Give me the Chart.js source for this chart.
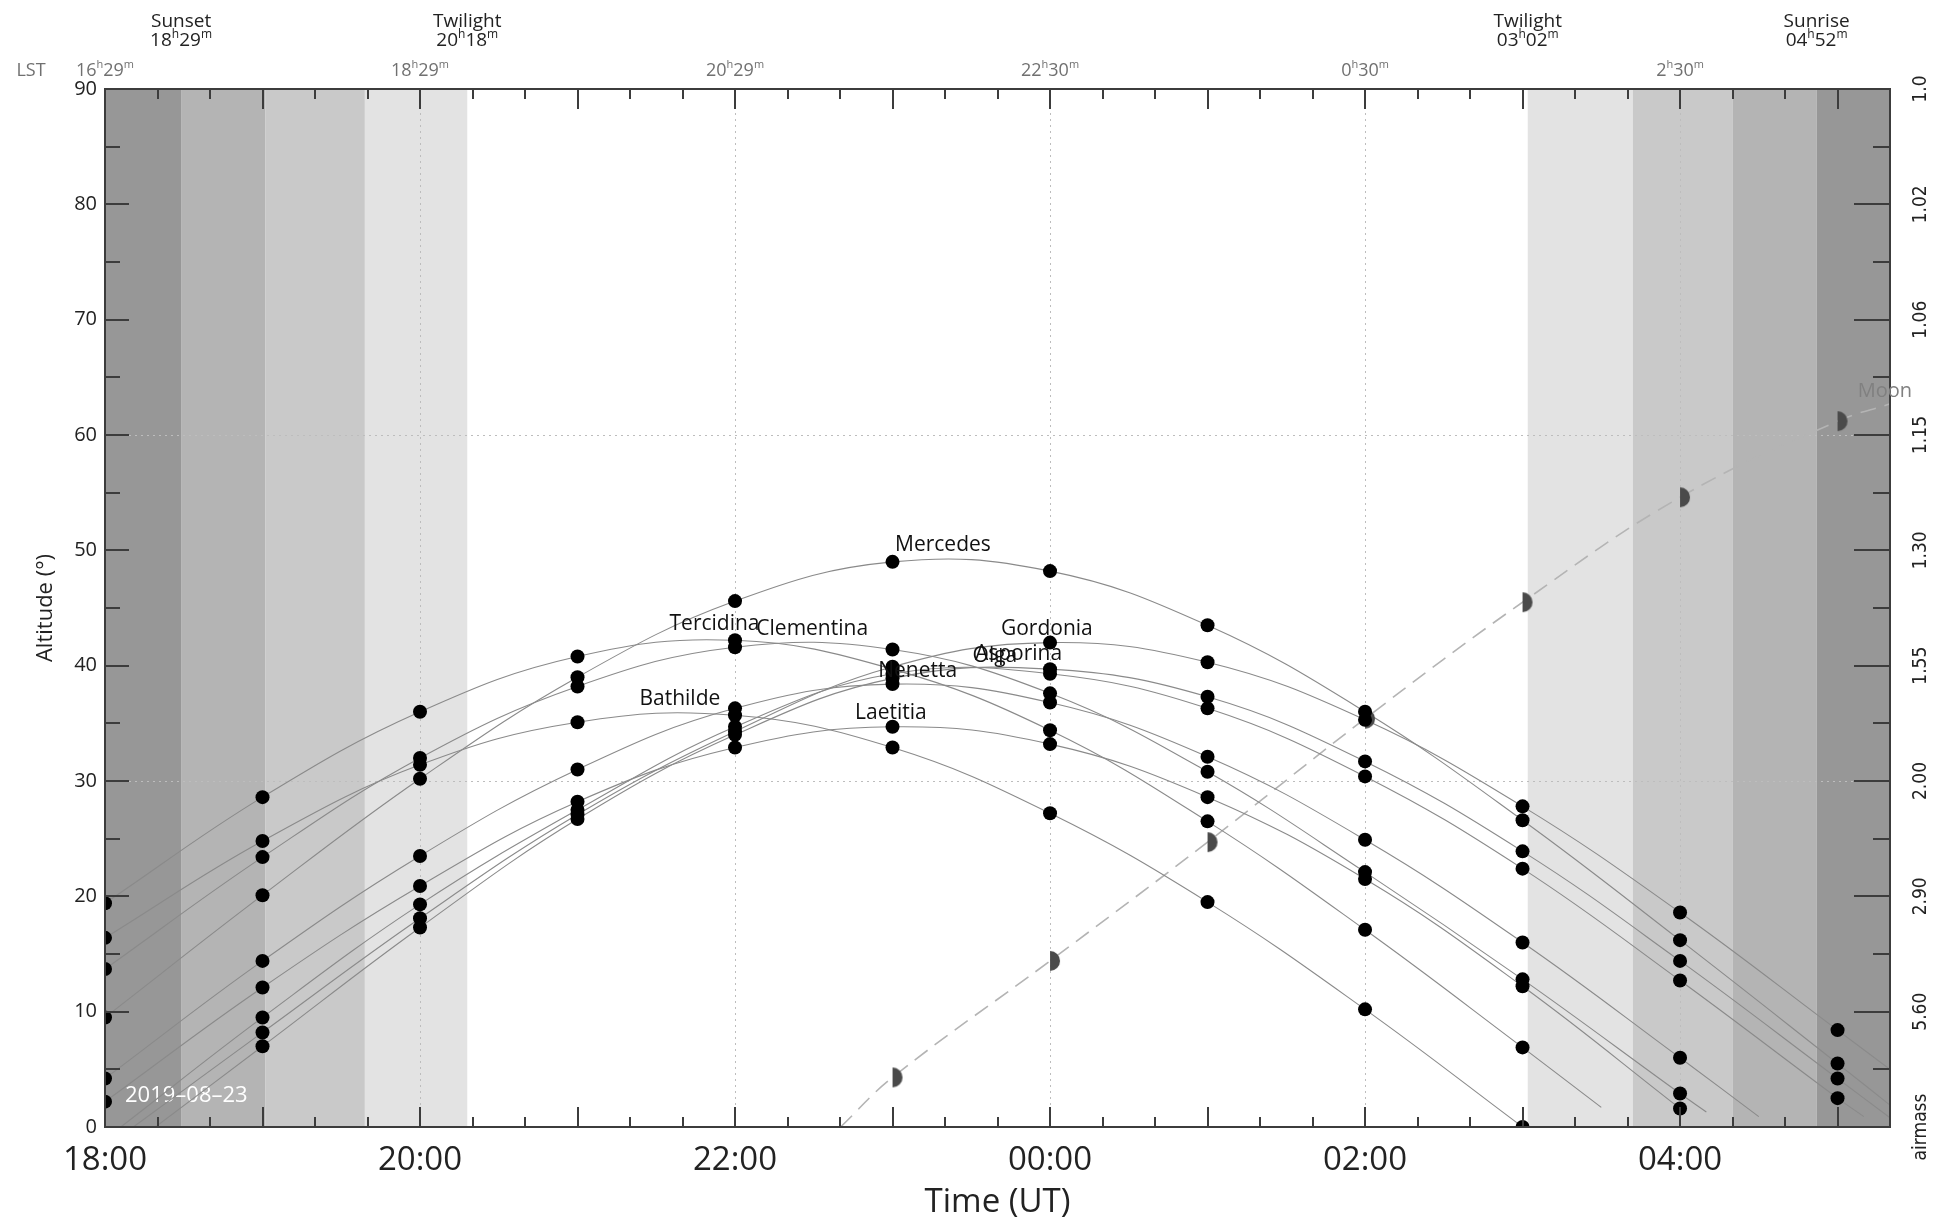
<!DOCTYPE html>
<html>
<head>
<meta charset="utf-8">
<script src="https://cdn.jsdelivr.net/npm/chart.js@4/dist/chart.umd.min.js"></script>
<style>
html,body{margin:0;padding:0;background:#fff;}
#wrap{width:1941px;height:1222px;position:relative;}
</style>
</head>
<body>
<div id="wrap"><canvas id="c" width="1941" height="1222"></canvas></div>
<script>
// ---------------- data ----------------
const ut = [18, 19, 20, 21, 22, 23, 24, 25, 26, 27, 28, 29];   // hours UT (24 = 00:00 next day)

const mercedes   = [9.5, 20.1, 30.2, 39.0, 45.6, 49.0, 48.2, 43.5, 36.0, 26.6, 16.2, 5.5];
const tercidina  = [19.4, 28.6, 36.0, 40.8, 42.2, 39.7, 34.4, 26.5, 17.1, 6.9, null, null];
const clementina = [13.7, 23.4, 32.0, 38.2, 41.6, 41.4, 37.6, 30.8, 22.1, 12.8, 2.9, null];
const gordonia   = [null, 8.2, 18.1, 27.1, 34.3, 39.9, 42.0, 40.3, 35.3, 27.8, 18.6, 8.4];
const asporina   = [null, 7.0, 17.3, 26.7, 34.0, 38.9, 39.7, 37.3, 31.7, 23.9, 14.4, 4.2];
const olga       = [null, 9.5, 19.3, 27.5, 34.7, 39.3, 39.3, 36.3, 30.4, 22.4, 12.7, 2.5];
const nenetta    = [4.2, 14.4, 23.5, 31.0, 36.3, 38.4, 36.8, 32.1, 24.9, 16.0, 6.0, null];
const bathilde   = [16.4, 24.8, 31.4, 35.1, 35.7, 32.9, 27.2, 19.5, 10.2, 0.0, null, null];
const laetitia   = [2.2, 12.1, 20.9, 28.2, 32.9, 34.7, 33.2, 28.6, 21.5, 12.2, 1.6, null];
const moon       = [null, null, null, null, null, 4.3, 14.4, 24.7, 35.4, 45.5, 54.6, 61.2];

// where each track begins / ends between the hourly marks  [hour, altitude]
const trackStart = { Gordonia: [18.18, 0], Asporina: [18.32, 0], Olga: [18.1, 0], Moon: [22.67, 0] };
const trackEnd   = { Mercedes: [29.333, 1.9], Tercidina: [27.5, 1.7], Clementina: [28.167, 1.3],
                     Gordonia: [29.333, 5.0], Asporina: [29.333, 0.8], Olga: [29.167, 0.9],
                     Nenetta: [28.5, 0.9], Moon: [29.333, 62.7] };

const targetNames = ['Mercedes', 'Tercidina', 'Clementina', 'Gordonia', 'Asporina', 'Olga', 'Nenetta', 'Bathilde', 'Laetitia'];
const targetValues = [mercedes, tercidina, clementina, gordonia, asporina, olga, nenetta, bathilde, laetitia];
// name label anchors (hour, altitude) = culmination of each track
const labelHour = [23.32, 21.87, 22.49, 23.98, 23.80, 23.65, 23.16, 21.65, 22.99];
const labelAlt  = [50.5, 43.6, 43.2, 43.2, 41.0, 40.8, 39.5, 37.1, 35.9];
const moonLabel = ['Moon', 29.3, 63.8];

// twilight bands [from, to] in hours UT, with darkness level (3 = daylight)
const bandFrom  = [18, 18.483, 19.017, 19.65, 27.033, 27.7, 28.333, 28.867];
const bandTo    = [18.483, 19.017, 19.65, 20.3, 27.7, 28.333, 28.867, 29.333];
const bandLevel = [3, 2, 1, 0, 0, 1, 2, 3];

// header events
const eventHour  = [18.483, 20.3, 27.033, 28.867];
const eventName  = ['Sunset', 'Twilight', 'Twilight', 'Sunrise'];
const eventClock = [['18', '29'], ['20', '18'], ['03', '02'], ['04', '52']];

// LST tick labels (top axis)
const lstHour  = [18, 20, 22, 24, 26, 28];
const lstClock = [['16', '29'], ['18', '29'], ['20', '29'], ['22', '30'], ['0', '30'], ['2', '30']];

// airmass labels on the right axis at altitude 0..90
const airmassAlt   = [0, 10, 20, 30, 40, 50, 60, 70, 80, 90];
const airmassLabel = ['airmass', '5.60', '2.90', '2.00', '1.55', '1.30', '1.15', '1.06', '1.02', '1.0'];

const dateLabel = '2019\u201308\u201323';

// ---------------- styles ----------------
const FONT = '"Open Sans", "DejaVu Sans", sans-serif';
const NARROW = '"Liberation Sans Narrow", "DejaVu Sans Condensed", sans-serif';
const shade = ['#e3e3e3', '#c9c9c9', '#b4b4b4', '#979797'];

function track(name, vals) {
  const pts = [];
  if (trackStart[name]) pts.push({ x: trackStart[name][0], y: trackStart[name][1] });
  vals.forEach((v, i) => { if (v !== null) pts.push({ x: ut[i], y: v }); });
  if (trackEnd[name]) pts.push({ x: trackEnd[name][0], y: trackEnd[name][1] });
  return pts;
}
function marks(vals) {
  const pts = [];
  vals.forEach((v, i) => { if (v !== null) pts.push({ x: ut[i], y: v }); });
  return pts;
}

function moonGlyph() {
  const c = document.createElement('canvas');
  c.width = 24; c.height = 24;
  const g = c.getContext('2d');
  g.fillStyle = '#4a4a4a';
  g.beginPath();
  g.moveTo(12, 2);
  g.arc(12, 12, 10, -Math.PI / 2, Math.PI / 2);
  g.closePath();
  g.fill();
  return c;
}

const datasets = [];
// markers first (drawn on top)
targetNames.forEach((n, i) => {
  datasets.push({ label: n + ' pts', data: marks(targetValues[i]), showLine: false,
    pointRadius: 7, pointBackgroundColor: '#000', pointBorderWidth: 0, clip: 0, order: 0 });
});
datasets.push({ label: 'Moon pts', data: marks(moon), showLine: false, pointStyle: moonGlyph(),
  pointRadius: 10, clip: 0, order: 0 });
targetNames.forEach((n, i) => {
  datasets.push({ label: n, data: track(n, targetValues[i]), showLine: true, pointRadius: 0,
    borderColor: '#8a8a8a', borderWidth: 1.1, tension: 0.4, clip: 0, order: 1 });
});
datasets.push({ label: 'Moon', data: track('Moon', moon), showLine: true, pointRadius: 0,
  borderColor: '#b4b4b4', borderWidth: 1.6, borderDash: [16, 9], tension: 0.4, clip: 0, order: 1 });

function supText(ctx, parts, cx, cy, big, small, color, font) {
  // parts: [hh, mm] -> hh^h mm^m
  ctx.fillStyle = color;
  ctx.textBaseline = 'middle';
  ctx.textAlign = 'left';
  const fb = big + 'px ' + font, fs = small + 'px ' + font;
  ctx.font = fb; const w1 = ctx.measureText(parts[0]).width, w3 = ctx.measureText(parts[1]).width;
  ctx.font = fs; const w2 = ctx.measureText('h').width, w4 = ctx.measureText('m').width;
  let x = cx - (w1 + w2 + w3 + w4) / 2;
  ctx.font = fb; ctx.fillText(parts[0], x, cy); x += w1;
  ctx.font = fs; ctx.fillText('h', x, cy - big * 0.33); x += w2;
  ctx.font = fb; ctx.fillText(parts[1], x, cy); x += w3;
  ctx.font = fs; ctx.fillText('m', x, cy - big * 0.33);
}

const deco = {
  id: 'deco',
  beforeDatasetsDraw(chart) {
    const { ctx, chartArea: a } = chart;
    const x = chart.scales.x, y = chart.scales.y;
    ctx.save();
    bandFrom.forEach((f, i) => {
      const x0 = x.getPixelForValue(f), x1 = x.getPixelForValue(bandTo[i]);
      ctx.fillStyle = shade[bandLevel[i]];
      ctx.fillRect(x0, a.top, x1 - x0, a.bottom - a.top);
    });
    ctx.strokeStyle = '#bdbdbd';
    ctx.lineWidth = 1;
    ctx.setLineDash([2, 4]);
    x.ticks.forEach(t => {
      if (t.value <= 18) return;
      const px = Math.round(x.getPixelForValue(t.value)) + 0.5;
      ctx.beginPath(); ctx.moveTo(px, a.top); ctx.lineTo(px, a.bottom); ctx.stroke();
    });
    [30, 60].forEach(v => {
      const py = Math.round(y.getPixelForValue(v)) + 0.5;
      ctx.beginPath(); ctx.moveTo(a.left, py); ctx.lineTo(a.right, py); ctx.stroke();
    });
    ctx.setLineDash([]);
    ctx.fillStyle = '#ffffff';
    ctx.font = '22px ' + FONT;
    ctx.textBaseline = 'middle';
    ctx.textAlign = 'left';
    ctx.fillText(dateLabel, x.getPixelForValue(18) + 20, y.getPixelForValue(2.7));
    ctx.restore();
  },
  afterDatasetsDraw(chart) {
    const { ctx, chartArea: a } = chart;
    const x = chart.scales.x, y = chart.scales.y;
    ctx.save();
    // frame
    ctx.strokeStyle = '#3c3c3c';
    ctx.lineWidth = 2;
    ctx.strokeRect(a.left, a.top, a.right - a.left, a.bottom - a.top);
    // time ticks (every 20 min, hourly long), top and bottom, pointing inward
    for (let k = 0; k * 20 <= (29.333 - 18) * 60 + 0.01; k++) {
      const h = 18 + k / 3;
      const px = Math.round(x.getPixelForValue(h));
      const len = (k % 3 === 0) ? 20 : 10;
      ctx.beginPath();
      ctx.moveTo(px, a.bottom); ctx.lineTo(px, a.bottom - len);
      ctx.moveTo(px, a.top); ctx.lineTo(px, a.top + len);
      ctx.stroke();
    }
    // altitude ticks left and right
    for (let v = 0; v <= 90; v += 5) {
      const py = Math.round(y.getPixelForValue(v));
      const major = v % 10 === 0;
      ctx.beginPath();
      ctx.moveTo(a.left, py); ctx.lineTo(a.left + (major ? 24 : 15), py);
      ctx.moveTo(a.right, py); ctx.lineTo(a.right - (major ? 36 : 17), py);
      ctx.stroke();
    }
    // airmass labels, rotated
    ctx.fillStyle = '#222';
    ctx.font = '19px ' + NARROW;
    ctx.textAlign = 'center';
    ctx.textBaseline = 'middle';
    airmassAlt.forEach((v, i) => {
      ctx.save();
      ctx.translate(a.right + 31, y.getPixelForValue(v));
      ctx.rotate(-Math.PI / 2);
      ctx.fillText(airmassLabel[i], 0, 0);
      ctx.restore();
    });
    // header: events
    eventHour.forEach((h, i) => {
      const px = x.getPixelForValue(h);
      ctx.fillStyle = '#222';
      ctx.font = '19px ' + FONT;
      ctx.textAlign = 'center';
      ctx.textBaseline = 'middle';
      ctx.fillText(eventName[i], px, 22);
      supText(ctx, eventClock[i], px, 41, 19, 12, '#222', FONT);
    });
    // LST row
    ctx.fillStyle = '#707070';
    ctx.font = '18px ' + FONT;
    ctx.textAlign = 'center';
    ctx.textBaseline = 'middle';
    ctx.fillText('LST', 31, 71);
    lstHour.forEach((h, i) => supText(ctx, lstClock[i], x.getPixelForValue(h), 71, 18, 11, '#707070', FONT));
    // target names
    ctx.fillStyle = '#111';
    ctx.font = '21px ' + FONT;
    ctx.textAlign = 'center';
    ctx.textBaseline = 'middle';
    targetNames.forEach((n, i) => ctx.fillText(n, x.getPixelForValue(labelHour[i]), y.getPixelForValue(labelAlt[i])));
    // moon name
    ctx.fillStyle = '#808080';
    ctx.font = '20px ' + FONT;
    ctx.fillText(moonLabel[0], x.getPixelForValue(moonLabel[1]), y.getPixelForValue(moonLabel[2]));
    ctx.restore();
  }
};

new Chart(document.getElementById('c'), {
  type: 'scatter',
  data: { datasets },
  options: {
    responsive: false,
    animation: false,
    devicePixelRatio: 1,
    events: [],
    layout: { padding: 0 },
    plugins: { legend: { display: false }, tooltip: { enabled: false } },
    scales: {
      x: {
        type: 'linear', position: 'bottom', min: 18, max: 29.333,
        grid: { display: false, drawTicks: false }, border: { display: false },
        ticks: {
          stepSize: 2, includeBounds: false, autoSkip: false, maxRotation: 0, padding: 14,
          color: '#222', font: { family: FONT, size: 33 },
          callback: v => String(((v % 24) + 24) % 24).padStart(2, '0') + ':00'
        },
        title: { display: true, text: 'Time (UT)', color: '#222', font: { family: FONT, size: 33 }, padding: { top: 0, bottom: 0 } },
        afterFit: s => { s.height = 95; }
      },
      xt: {
        type: 'linear', position: 'top', min: 18, max: 29.333,
        grid: { display: false, drawTicks: false }, border: { display: false },
        ticks: { display: false },
        afterFit: s => { s.height = 89; }
      },
      y: {
        type: 'linear', position: 'left', min: 0, max: 90,
        grid: { display: false, drawTicks: false }, border: { display: false },
        ticks: { stepSize: 10, padding: 8, color: '#222', font: { family: FONT, size: 20 } },
        title: { display: true, text: 'Altitude (\u00b0)', color: '#222', font: { family: FONT, size: 22 }, padding: { top: 33, bottom: 0 } },
        afterFit: s => { s.width = 105; }
      },
      yr: {
        type: 'linear', position: 'right', min: 0, max: 90,
        grid: { display: false, drawTicks: false }, border: { display: false },
        ticks: { display: false },
        afterFit: s => { s.width = 51; }
      }
    }
  },
  plugins: [deco]
});
</script>
</body>
</html>
